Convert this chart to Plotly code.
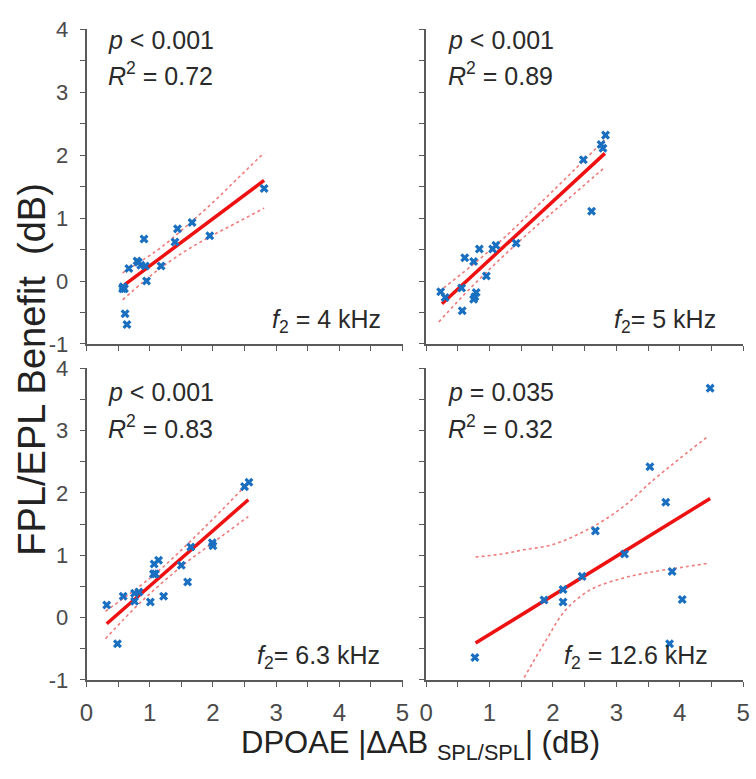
import plotly.graph_objects as go

# ---------------- data ----------------
# Panel A: f2 = 4 kHz
A_x = [2.81, 1.67, 1.44, 1.40, 1.95, 0.91, 1.18, 0.80, 0.82, 0.86, 0.93, 0.67, 0.95, 0.58, 0.60, 0.57, 0.61, 0.64]
A_y = [1.47, 0.93, 0.83, 0.62, 0.72, 0.67, 0.24, 0.32, 0.30, 0.25, 0.24, 0.20, 0.00, -0.09, -0.12, -0.12, -0.52, -0.69]
A_fit_x = [0.60, 2.81]
A_fit_y = [-0.06, 1.60]
A_band_x = [0.57, 0.9, 1.2, 1.6, 2.0, 2.4, 2.81]
A_band_up = [0.13, 0.34, 0.55, 0.89, 1.25, 1.64, 2.04]
A_band_lo = [-0.30, -0.01, 0.23, 0.50, 0.73, 0.94, 1.16]

# Panel B: f2 = 5 kHz
B_x = [2.83, 2.76, 2.79, 2.48, 2.61, 1.42, 1.10, 1.05, 0.84, 0.61, 0.75, 0.95, 0.56, 0.23, 0.30, 0.79, 0.77, 0.75, 0.57]
B_y = [2.32, 2.17, 2.11, 1.93, 1.11, 0.60, 0.57, 0.51, 0.51, 0.37, 0.31, 0.08, -0.11, -0.17, -0.26, -0.18, -0.25, -0.29, -0.47]
B_fit_x = [0.25, 2.82]
B_fit_y = [-0.36, 2.03]
B_band_x = [0.2, 0.7, 1.2, 1.7, 2.2, 2.82]
B_band_up = [-0.17, 0.23, 0.66, 1.14, 1.63, 2.25]
B_band_lo = [-0.65, -0.11, 0.38, 0.84, 1.27, 1.81]

# Panel C: f2 = 6.3 kHz
C_x = [2.57, 2.50, 1.65, 1.99, 2.00, 1.50, 1.60, 1.14, 1.07, 1.06, 1.09, 0.83, 0.76, 0.76, 0.58, 1.01, 1.22, 0.32, 0.49]
C_y = [2.17, 2.10, 1.13, 1.20, 1.15, 0.84, 0.57, 0.92, 0.86, 0.70, 0.70, 0.41, 0.39, 0.26, 0.34, 0.25, 0.34, 0.20, -0.42]
C_fit_x = [0.32, 2.56]
C_fit_y = [-0.10, 1.89]
C_band_x = [0.3, 0.8, 1.2, 1.6, 2.0, 2.56]
C_band_up = [0.10, 0.47, 0.80, 1.18, 1.58, 2.16]
C_band_lo = [-0.34, 0.19, 0.56, 0.90, 1.20, 1.62]

# Panel D: f2 = 12.6 kHz
D_x = [4.48, 3.53, 3.78, 2.67, 3.13, 3.88, 4.04, 2.46, 2.16, 1.86, 2.16, 3.84, 0.77]
D_y = [3.68, 2.42, 1.85, 1.39, 1.02, 0.74, 0.29, 0.66, 0.45, 0.28, 0.25, -0.42, -0.64]
D_fit_x = [0.78, 4.48]
D_fit_y = [-0.41, 1.91]
D_up_x = [0.78, 1.2, 1.56, 2.0, 2.6, 3.1, 3.6, 4.0, 4.45]
D_band_up = [0.97, 1.02, 1.09, 1.17, 1.44, 1.77, 2.22, 2.55, 2.91]
D_lo_x = [0.78, 1.2, 1.56, 1.9, 2.2, 2.6, 3.1, 3.5, 4.0, 4.45]
D_band_lo = [-2.4, -1.6, -0.94, -0.35, 0.12, 0.45, 0.63, 0.72, 0.80, 0.87]

p_texts = ["<i>p</i> &lt; 0.001", "<i>p</i> &lt; 0.001", "<i>p</i> &lt; 0.001", "<i>p</i> = 0.035"]
r2_texts = ["<i>R</i><sup>2</sup> = 0.72", "<i>R</i><sup>2</sup> = 0.89",
            "<i>R</i><sup>2</sup> = 0.83", "<i>R</i><sup>2</sup> = 0.32"]
f_texts = ["<i>f</i><sub>2</sub> = 4 kHz", "<i>f</i><sub>2</sub>= 5 kHz",
           "<i>f</i><sub>2</sub>= 6.3 kHz", "<i>f</i><sub>2</sub> = 12.6 kHz"]

x_tickvals = [0, 1, 2, 3, 4, 5]
x_ticktext = ["0", "1", "2", "3", "4", "5"]
y_tickvals = [-1, 0, 1, 2, 3, 4]
y_ticktext = ["-1", "0", "1", "2", "3", "4"]

x_title = "DPOAE |ΔAB <sub>SPL/SPL</sub>| (dB)"
y_title = "FPL/EPL Benefit&nbsp;&nbsp;(dB)"

# ---------------- styling ----------------
W, H = 756, 779
REG = "Liberation Sans, Arial, Helvetica, sans-serif"
MARK = "#1a6fc0"
LINE_RED = "#ee1111"
BAND = "#f07a7a"
AX = "#5a5a5a"

def px_x(p):
    return p / W

def px_y(p):
    return (H - p) / H

dom_x = [[px_x(81), px_x(403)], [px_x(427), px_x(750)]]
dom_y = [[px_y(343), px_y(18)], [px_y(690), px_y(368)]]

panels = [
    (A_x, A_y, A_fit_x, A_fit_y, A_band_x, A_band_up, A_band_x, A_band_lo),
    (B_x, B_y, B_fit_x, B_fit_y, B_band_x, B_band_up, B_band_x, B_band_lo),
    (C_x, C_y, C_fit_x, C_fit_y, C_band_x, C_band_up, C_band_x, C_band_lo),
    (D_x, D_y, D_fit_x, D_fit_y, D_up_x, D_band_up, D_lo_x, D_band_lo),
]

fig = go.Figure()
layout = dict(
    width=W, height=H, margin=dict(l=0, r=0, t=0, b=0),
    paper_bgcolor="white", plot_bgcolor="white", showlegend=False,
)

minor_ticks = dict(dtick=0.5, ticks="outside", ticklen=5, tickwidth=1.3,
                   tickcolor=AX, showgrid=False)

annotations = []
for i, (px, py, fx, fy, ux, uy, lx, ly) in enumerate(panels):
    n = i + 1
    xa = "x" if n == 1 else f"x{n}"
    ya = "y" if n == 1 else f"y{n}"
    col = i % 2
    row = i // 2
    for bx, by in ((ux, uy), (lx, ly)):
        fig.add_trace(go.Scatter(x=bx, y=by, mode="lines", xaxis=xa, yaxis=ya,
                                 line=dict(color=BAND, width=1.6, dash="dot", shape="spline"),
                                 hoverinfo="skip"))
    fig.add_trace(go.Scatter(x=fx, y=fy, mode="lines", xaxis=xa, yaxis=ya,
                             line=dict(color=LINE_RED, width=3.5)))
    fig.add_trace(go.Scatter(x=px, y=py, mode="markers", xaxis=xa, yaxis=ya,
                             marker=dict(symbol="x", size=8, color=MARK,
                                         line=dict(width=0))))

    show_xlab = row == 1
    show_ylab = col == 0
    layout["xaxis" if n == 1 else f"xaxis{n}"] = dict(
        domain=dom_x[col], anchor=ya, range=[0, 5],
        tickmode="array", tickvals=x_tickvals, ticktext=x_ticktext,
        showticklabels=show_xlab, minor=dict(minor_ticks, tick0=0),
        showline=True, linecolor=AX, linewidth=1.5, mirror=False,
        ticks="outside", ticklen=5, tickwidth=1.3, tickcolor=AX,
        showgrid=False, zeroline=False, ticklabelstandoff=6,
        tickfont=dict(family=REG, size=24, color="#4a4a4a"),
    )
    layout["yaxis" if n == 1 else f"yaxis{n}"] = dict(
        domain=dom_y[row], anchor=xa, range=[-1, 4],
        tickmode="array", tickvals=y_tickvals, ticktext=y_ticktext,
        showticklabels=show_ylab, minor=dict(minor_ticks, tick0=-1),
        showline=True, linecolor=AX, linewidth=1.5, mirror=False,
        ticks="outside", ticklen=5, tickwidth=1.3, tickcolor=AX,
        showgrid=False, zeroline=False, ticklabelstandoff=7,
        tickfont=dict(family=REG, size=22, color="#4a4a4a"),
    )

    if row == 0:
        yp, yr = 0.966, 0.857
    else:
        yp, yr = 0.922, 0.811
    fright = [0.938, 0.92, 0.935, 0.897][i]
    xd = f"{xa} domain"
    yd = f"{ya} domain"
    afont = dict(family=REG, size=25, color="#2a2a2a")
    annotations.append(dict(xref=xd, yref=yd, x=0.062, y=yp, text=p_texts[i],
                            showarrow=False, xanchor="left", yanchor="middle", font=afont))
    annotations.append(dict(xref=xd, yref=yd, x=0.062, y=yr, text=r2_texts[i],
                            showarrow=False, xanchor="left", yanchor="middle", font=afont))
    annotations.append(dict(xref=xd, yref=yd, x=fright, y=0.072, text=f_texts[i],
                            showarrow=False, xanchor="right", yanchor="middle", font=afont))

annotations.append(dict(xref="paper", yref="paper", x=px_x(421), y=px_y(757), text=x_title,
                        showarrow=False, xanchor="center", yanchor="middle",
                        font=dict(family=REG, size=31, color="#222")))
annotations.append(dict(xref="paper", yref="paper", x=px_x(26), y=px_y(370), text=y_title,
                        showarrow=False, xanchor="center", yanchor="middle", textangle=-90,
                        font=dict(family=REG, size=38, color="#222")))

layout["annotations"] = annotations
fig.update_layout(**layout)
fig.write_html("out.html")
